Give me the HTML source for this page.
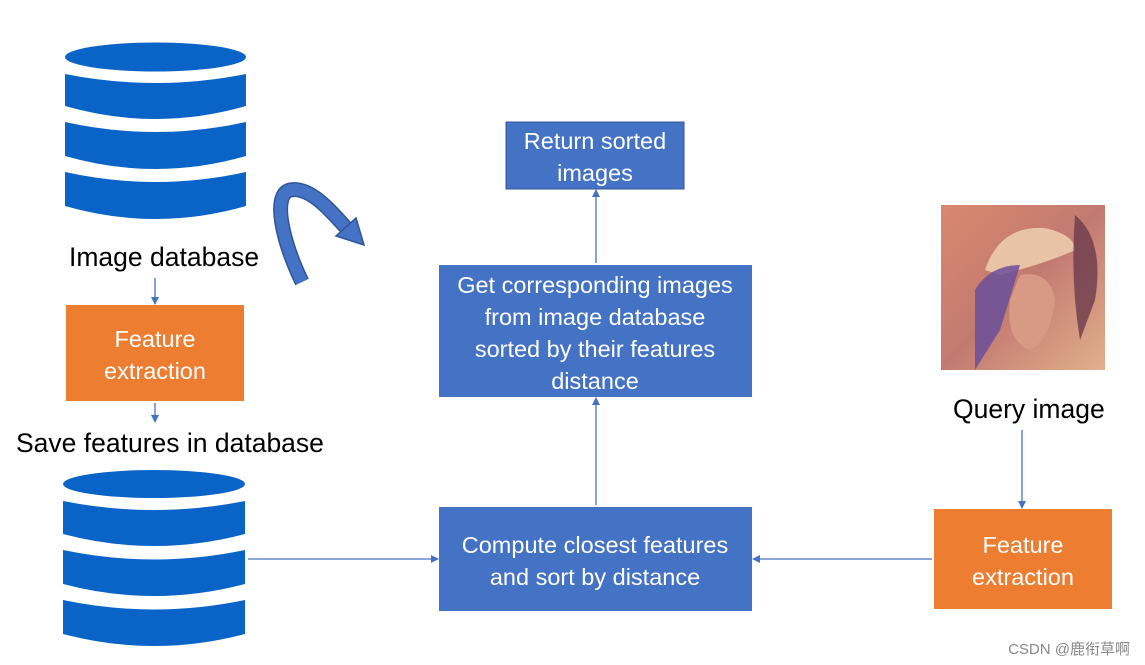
<!DOCTYPE html>
<html><head><meta charset="utf-8"><style>
body{margin:0;background:#fff;}
svg{display:block;}
</style></head><body>
<svg width="1145" height="665" viewBox="0 0 1145 665" xmlns="http://www.w3.org/2000/svg">
<defs>
<marker id="ah" markerWidth="8" markerHeight="8" refX="7" refY="4" orient="auto" markerUnits="userSpaceOnUse">
<path d="M0,0 L8,4 L0,8 Z" fill="#4472c4"/></marker>
<linearGradient id="lg" x1="0" y1="0" x2="1" y2="1">
<stop offset="0" stop-color="#d9886e"/><stop offset="0.5" stop-color="#c27a70"/><stop offset="1" stop-color="#e2b08c"/></linearGradient>
</defs>
<!-- DB1 -->
<g fill="#0a64c8">
<ellipse cx="155.5" cy="57" rx="90.5" ry="14.5"/>
<path d="M65,74 Q155.5,92 246,74 L246,106 Q155.5,132 65,106 Z"/>
<path d="M65,122 Q155.5,142 246,122 L246,156 Q155.5,182 65,156 Z"/>
<path d="M65,172 Q155.5,192 246,172 L246,206 Q155.5,232 65,206 Z"/>
</g>
<!-- DB2 -->
<g fill="#0a64c8">
<ellipse cx="154" cy="484" rx="91" ry="14"/>
<path d="M63,501 Q154,519 245,501 L245,534 Q154,558 63,534 Z"/>
<path d="M63,550 Q154,569 245,550 L245,584 Q154,608 63,584 Z"/>
<path d="M63,600 Q154,619 245,600 L245,634 Q154,658 63,634 Z"/>
</g>
<!-- curved arrow -->
<path d="M302,282 C282,240 272,195 290,190 C310,186 330,210 348,230" fill="none" stroke="#2f5597" stroke-width="15"/>
<path d="M302,282 C282,240 272,195 290,190 C310,186 330,210 348,230" fill="none" stroke="#4472c4" stroke-width="12"/>
<path d="M336,236 L364,245 L356,218 Z" fill="#4472c4" stroke="#2f5597" stroke-width="1.5"/>
<!-- labels -->
<g font-family="Liberation Sans, Arial, sans-serif" font-size="26.5" fill="#000">
<text x="69" y="266">Image database</text>
<text x="16" y="452">Save features in database</text>
<text x="953" y="418">Query image</text>
</g>
<!-- boxes -->
<rect x="506" y="122" width="178" height="67" fill="#4472c4" stroke="#2f5597"/>
<rect x="439" y="265" width="313" height="132" fill="#4472c4"/>
<rect x="439" y="507" width="313" height="104" fill="#4472c4"/>
<rect x="66" y="305" width="178" height="96" fill="#ed7d31"/>
<rect x="934" y="509" width="178" height="100" fill="#ed7d31"/>
<g font-family="Liberation Sans, Arial, sans-serif" font-size="23.5" fill="#fff" text-anchor="middle">
<text x="595" y="149">Return sorted</text><text x="595" y="181">images</text>
<text x="595" y="293">Get corresponding images</text>
<text x="595" y="325">from image database</text>
<text x="595" y="357">sorted by their features</text>
<text x="595" y="389">distance</text>
<text x="595" y="553">Compute closest features</text>
<text x="595" y="585">and sort by distance</text>
<text x="155" y="347">Feature</text><text x="155" y="379">extraction</text>
<text x="1023" y="553">Feature</text><text x="1023" y="585">extraction</text>
</g>
<!-- connectors -->
<g stroke="#4472c4" stroke-width="1.3" fill="none" marker-end="url(#ah)">
<line x1="155" y1="278" x2="155" y2="304"/>
<line x1="155" y1="403" x2="155" y2="422"/>
<line x1="248" y1="559" x2="438" y2="559"/>
<line x1="596" y1="505" x2="596" y2="398"/>
<line x1="596" y1="263" x2="596" y2="190"/>
<line x1="1022" y1="430" x2="1022" y2="508"/>
<line x1="932" y1="559" x2="753" y2="559"/>
</g>
<!-- query image -->
<rect x="941" y="205" width="164" height="165" fill="url(#lg)"/>
<path d="M985,270 Q1000,225 1045,228 Q1075,235 1075,250 Q1050,262 1000,275 Z" fill="#e8c3a5"/>
<path d="M975,290 Q990,265 1020,265 L1000,330 L975,370 Z" fill="#6a4f9a" opacity="0.85"/>
<path d="M1020,275 Q1050,270 1055,300 Q1050,340 1030,350 Q1005,340 1010,300 Z" fill="#d99a85"/>
<path d="M1075,215 Q1105,240 1095,300 L1080,340 Q1070,280 1075,215 Z" fill="#6b3b4e" opacity="0.8"/>
<text x="1130" y="654" font-family="Liberation Sans, 'Noto Sans CJK SC', sans-serif" font-size="15" fill="#888" text-anchor="end">CSDN @鹿衔草啊</text>
</svg>
</body></html>
